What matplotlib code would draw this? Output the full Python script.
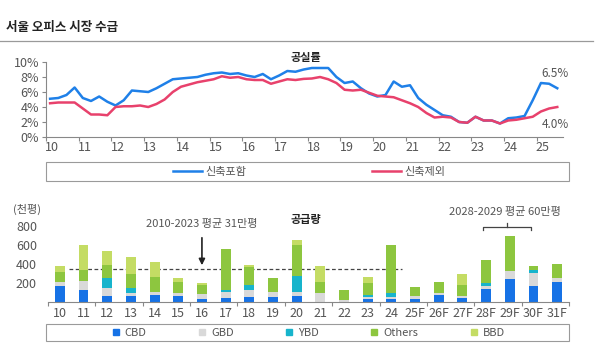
import numpy as np
import matplotlib
matplotlib.use('Agg')
import matplotlib.pyplot as plt
from matplotlib.lines import Line2D
from matplotlib.patches import Rectangle

plt.rcParams['font.family'] = ['Noto Sans CJK KR', 'DejaVu Sans']

# --- vacancy rate (quarterly, 2010Q1 ~ 2025Q3) ---
year_labels = ['10', '11', '12', '13', '14', '15', '16', '17',
               '18', '19', '20', '21', '22', '23', '24', '25']
incl_new = [5.1, 5.2, 5.6, 6.6,  5.2, 4.8, 5.4, 4.7,  4.2, 4.9, 6.2, 6.1,
            6.0, 6.5, 7.1, 7.7,  7.8, 7.9, 8.0, 8.3,  8.5, 8.6, 8.4, 8.5,
            8.2, 8.0, 8.4, 7.7,  8.2, 8.8, 8.7, 9.0,  9.2, 9.2, 9.2, 8.0,
            7.2, 7.4, 6.5, 5.8,  5.4, 5.6, 7.4, 6.7,  6.9, 5.2, 4.3, 3.6,
            2.9, 2.7, 2.0, 1.9,  2.7, 2.2, 2.2, 1.8,  2.5, 2.6, 2.8, 4.9,
            7.2, 7.1, 6.5]
excl_new = [4.5, 4.6, 4.6, 4.6,  3.8, 3.0, 3.0, 2.9,  4.0, 4.1, 4.1, 4.2,
            4.0, 4.4, 5.0, 6.0,  6.7, 7.0, 7.3, 7.5,  7.7, 8.1, 7.9, 8.0,
            7.7, 7.6, 7.6, 7.1,  7.4, 7.7, 7.6, 7.75, 7.8, 8.0, 7.7, 7.2,
            6.3, 6.2, 6.3, 5.9,  5.5, 5.4, 5.3, 4.9,  4.5, 4.0, 3.2, 2.6,
            2.7, 2.6, 2.0, 1.9,  2.7, 2.2, 2.2, 1.8,  2.2, 2.3, 2.5, 2.7,
            3.4, 3.8, 4.0]

# --- supply (thousand pyeong) ---
bar_labels = ['10', '11', '12', '13', '14', '15', '16', '17', '18', '19', '20',
              '21', '22', '23', '24', '25F', '26F', '27F', '28F', '29F', '30F', '31F']
cbd    = [165, 125,  60,  60,  70,  60,  25,  40,  53,  53,  64,
            0,   0,  28,  25,  33,  71,  39, 134, 236, 163, 212]
gbd    = [ 45,  95,  88,  28,  36,  28,  56,  63,  71,  49,  42,
           88,  20,  25,  21,  22,  24,  21,  36,  92, 145,  35]
ybd    = [  0,   0, 100,  53,   0,   0,   0,  20,  52,   0, 165,
            0,   0,  18,  42,   0,   0,   0,  24,   0,  25,   0]
others = [105, 110, 140, 151, 158, 117,  95, 433, 194, 145, 328,
          124, 100, 123, 511,  97, 110, 116, 246, 366,  44, 148]
bbd    = [ 60, 270, 147, 177, 152,  49,  25,   0,  21,   0,  52,
          165,   0,  63,   0,   0,   0, 116,   0,   0,   0,   0]
avg_2010_2023 = 345

c_blue = '#1f80e8'
c_red = '#e8416c'
c_cbd = '#1672e6'
c_gbd = '#d9d9d9'
c_ybd = '#17b4cc'
c_oth = '#8dc63f'
c_bbd = '#c4dc64'
grey = '#555555'
W, H = 600, 349

fig = plt.figure(figsize=(6, 3.49), dpi=100)

fig.text(6/W, 1-28/H, '서울 오피스 시장 수급', fontsize=9, fontweight='bold',
         color='#222222', va='center')
fig.add_artist(Line2D([0, 593/W], [1-41/H, 1-41/H], color='#9a9a9a', lw=0.9))

# ---------------- line chart ----------------
ax1 = fig.add_axes([46/W, 1-137/H, 517/W, 75/H])
x = np.arange(len(incl_new))
ax1.plot(x, incl_new, color=c_blue, lw=1.8, label='신축포함')
ax1.plot(x, excl_new, color=c_red, lw=1.8, label='신축제외')
ax1.set_xlim(-0.5, 62.7)
ax1.set_ylim(0, 10)
ax1.set_yticks(range(0, 11, 2))
ax1.set_yticklabels([f'{v}%' for v in range(0, 11, 2)])
ax1.set_xticks([-0.5 + 4*k for k in range(len(year_labels))])
ax1.set_xticklabels([])
ax1.set_xticks([0.25 + 4*k for k in range(len(year_labels))], minor=True)
ax1.set_xticklabels(year_labels, minor=True)
ax1.tick_params(axis='x', which='major', length=3, color='#888888')
ax1.tick_params(axis='x', which='minor', length=0, labelsize=9, labelcolor=grey, pad=3)
ax1.tick_params(axis='y', length=3, color='#888888', labelsize=9, labelcolor=grey, pad=2)
for s in ['top', 'right']:
    ax1.spines[s].set_visible(False)
for s in ['left', 'bottom']:
    ax1.spines[s].set_color('#888888')
    ax1.spines[s].set_linewidth(0.8)

ax1.annotate(f'{incl_new[-1]:.1f}%', xy=(x[-1], incl_new[-1]), xytext=(-2, 15),
             textcoords='offset pixels', ha='center', va='center', fontsize=8.5, color=grey)
ax1.annotate(f'{excl_new[-1]:.1f}%', xy=(x[-1], excl_new[-1]), xytext=(-2, -17),
             textcoords='offset pixels', ha='center', va='center', fontsize=8.5, color=grey)
fig.text(306/W, 1-57/H, '공실률', fontsize=8, fontweight='bold', color='#222222',
         ha='center', va='center')

fig.add_artist(Rectangle((46/W, 1-181/H), 523/W, 19/H, transform=fig.transFigure,
                         fill=False, edgecolor='#9a9a9a', lw=0.8))
h1, l1 = ax1.get_legend_handles_labels()
fig.legend(h1, l1, loc='center', bbox_to_anchor=(309/W, 1-171.5/H), ncol=2,
           frameon=False, fontsize=8, handlelength=2.6, handletextpad=0.3,
           columnspacing=11.3, labelcolor=grey, borderpad=0)

# ---------------- bar chart ----------------
ax2 = fig.add_axes([48/W, 1-301.7/H, 521/W, 75.7/H])
xb = np.arange(len(bar_labels))
ax2.axhline(avg_2010_2023, xmin=0.04, xmax=0.68, color='#444444', lw=0.9,
            ls=(0, (3, 2)), zorder=1)
bottom = np.zeros(len(bar_labels))
series = [(cbd, c_cbd, 'CBD'), (gbd, c_gbd, 'GBD'), (ybd, c_ybd, 'YBD'),
          (others, c_oth, 'Others'), (bbd, c_bbd, 'BBD')]
for vals, col, name in series:
    ax2.bar(xb, vals, bottom=bottom, width=0.42, color=col, zorder=2, label=name)
    bottom += np.array(vals)
ax2.set_xlim(-0.5, 21.5)
ax2.set_ylim(0, 800)
ax2.set_yticks([200, 400, 600, 800])
ax2.set_xticks(np.arange(-0.5, 22, 2))
ax2.set_xticklabels([])
ax2.set_xticks(xb, minor=True)
ax2.set_xticklabels(bar_labels, minor=True)
ax2.tick_params(axis='x', which='major', length=3, color='#888888')
ax2.tick_params(axis='x', which='minor', length=0, labelsize=9, labelcolor=grey, pad=4)
ax2.tick_params(axis='y', length=0, labelsize=9, labelcolor=grey, pad=8)
for s in ['top', 'right', 'left']:
    ax2.spines[s].set_visible(False)
ax2.spines['bottom'].set_color('#888888')
ax2.spines['bottom'].set_linewidth(0.8)

ax2.annotate('', xy=(6, 356), xytext=(6, 705),
             arrowprops=dict(arrowstyle='-|>', color='#222222', lw=1.2,
                             mutation_scale=9), annotation_clip=False)
ax2.text(6, 822, '2010-2023 평균 31만평', ha='center', va='center', fontsize=8, color=grey)
ax2.plot([17.85, 17.85, 19.9, 19.9], [757, 787, 787, 757], color='#444444', lw=0.9,
         clip_on=False)
ax2.plot([18.9, 18.9], [787, 830], color='#444444', lw=0.9, clip_on=False)
ax2.text(18.8, 947, '2028-2029 평균 60만평', ha='center', va='center', fontsize=8, color=grey)

fig.text(306/W, 1-219/H, '공급량', fontsize=8, fontweight='bold', color='#222222',
         ha='center', va='center')
fig.text(27/W, 1-209/H, '(천평)', fontsize=8, color=grey, ha='center', va='center')

fig.add_artist(Rectangle((46/W, 1-341/H), 523/W, 17/H, transform=fig.transFigure,
                         fill=False, edgecolor='#9a9a9a', lw=0.8))
h2 = [Line2D([], [], ls='none', marker='s', markersize=5, color=c)
      for _, c, _ in series]
fig.legend(h2, [n for _, _, n in series], loc='center', bbox_to_anchor=(308/W, 1-332.5/H),
           ncol=5, frameon=False, fontsize=8, handlelength=0.8, handletextpad=0.4,
           columnspacing=4.6, labelcolor=grey, borderpad=0)

fig.savefig('out.png', dpi=100)
